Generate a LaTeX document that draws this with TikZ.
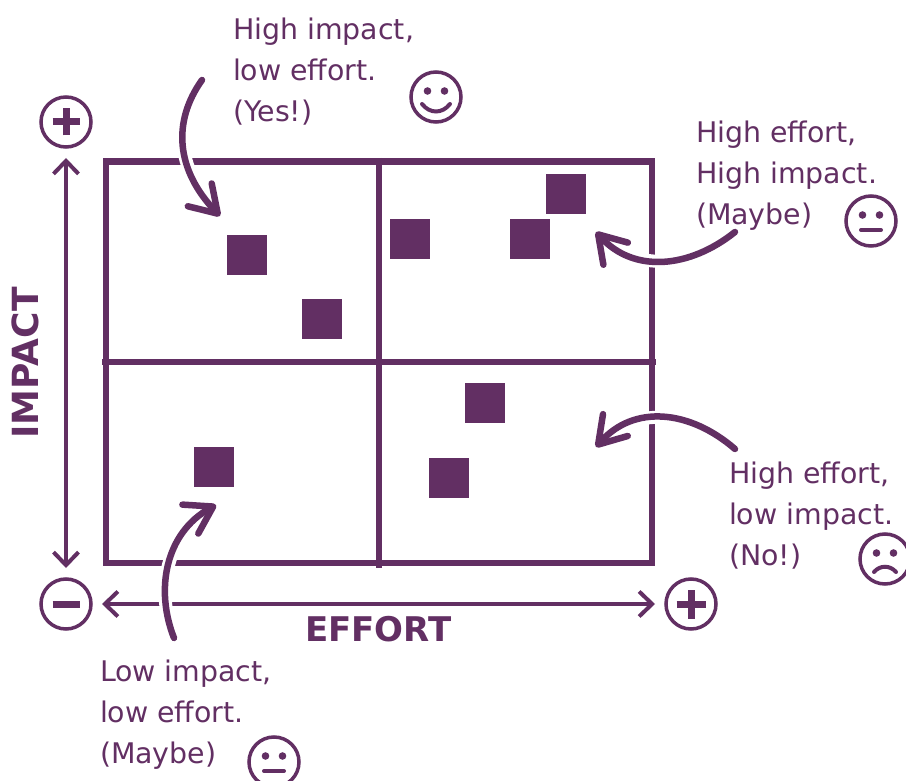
\documentclass[tikz,border=0pt]{standalone}
\usepackage{fontspec}
\setmainfont{DejaVu Sans}
\usetikzlibrary{arrows.meta}
\definecolor{plum}{HTML}{622F63}
\tikzset{
  x=1pt,y=-1pt,
  frame/.style={draw=plum,line width=6.5pt,line cap=rect},
  divider/.style={draw=plum,line width=6pt},
  item/.style={fill=plum,draw=none,minimum size=40pt,inner sep=0pt,outer sep=0pt,rectangle},
  ring/.style={circle,draw=plum,line width=3.5pt,minimum size=50pt,inner sep=0pt,outer sep=0pt},
  axisline/.style={draw=plum,line width=4pt,shorten <=11pt,shorten >=11pt,
    {Straight Barb[length=13pt,width=25pt]}-{Straight Barb[length=13pt,width=25pt]}},
  note/.style={text=plum,anchor=north west,align=left,inner sep=0pt,outer sep=0pt,
    font=\fontsize{28.4}{41.2}\selectfont},
  axislabel/.style={text=plum,inner sep=0pt,font=\fontsize{34}{40}\selectfont\bfseries},
  halo/.style={draw=white,line width=13pt},
  curvy/.style={draw=plum,line width=6.5pt,line cap=round,
    -{Straight Barb[length=26pt,width=33pt,round,line width=6.5pt]}},
  glyph/.style={draw=plum,line width=7pt},
  eye/.style={fill=plum,draw=none},
  mouth/.style={draw=plum,line width=4pt,line cap=round},
}
\newcommand{\eyes}[1]{%
  \fill[eye] ([shift={(-8.5,-6)}]#1.center) circle (3.8pt);
  \fill[eye] ([shift={(8.5,-6)}]#1.center) circle (3.8pt);}
\begin{document}
\begin{tikzpicture}
\useasboundingbox (0,0) rectangle (906,781);
\clip (0,0) rectangle (906,781);
% squares
\node[item] (s1) at (247,255) {};
\node[item] (s2) at (322,319) {};
\node[item] (s3) at (410,239) {};
\node[item] (s4) at (530,239) {};
\node[item] (s5) at (566,194) {};
\node[item] (s6) at (485,403) {};
\node[item] (s7) at (449,478) {};
\node[item] (s8) at (214,467) {};
% matrix
\draw[frame] (106,161.5) rectangle (652,563);
\draw[divider] (379,158) -- (379,568);
\draw[divider] (102,361.5) -- (656,361.5);
% axes
\node[ring] (vplus) at (66,122) {};
\node[ring] (origin) at (66,604) {};
\node[ring] (hplus) at (691,604) {};
\draw[glyph] ([xshift=-13.5pt]vplus.center) -- ([xshift=13.5pt]vplus.center);
\draw[glyph] ([yshift=-13.5pt]vplus.center) -- ([yshift=13.5pt]vplus.center);
\draw[glyph] ([xshift=-13.5pt]origin.center) -- ([xshift=13.5pt]origin.center);
\draw[glyph] ([xshift=-14.5pt]hplus.center) -- ([xshift=14.5pt]hplus.center);
\draw[glyph] ([yshift=-14.5pt]hplus.center) -- ([yshift=14.5pt]hplus.center);
\draw[axisline] (vplus) -- (origin);
\draw[axisline] (origin) -- (hplus);
\node[axislabel,rotate=90,font=\fontsize{36}{40}\selectfont\bfseries] (impact) at (25,363) {IMPACT};
\node[axislabel] (effort) at (378.5,629) {EFFORT};
% notes
\node[note] (n1) at (233,17.5) {High impact,\\low effort.\\(Yes!)};
\node[note] (n2) at (696,120.5) {High effort,\\High impact.\\(Maybe)};
\node[note] (n3) at (729,461.5) {High effort,\\low impact.\\(No!)};
\node[note] (n4) at (100,659.5) {Low impact,\\low effort.\\(Maybe)};
% faces
\node[ring] (f1) at (436,97) {};
\eyes{f1}
\draw[mouth] ([shift={(-14,7)}]f1.center) .. controls ([shift={(-6,17)}]f1.center) and ([shift={(6,17)}]f1.center) .. ([shift={(14,7)}]f1.center);
\node[ring] (f2) at (871,221) {};
\eyes{f2}
\draw[mouth] ([shift={(-10,9)}]f2.center) -- ([shift={(10,9)}]f2.center);
\node[ring] (f3) at (885,559) {};
\eyes{f3}
\draw[mouth] ([shift={(-11,13)}]f3.center) .. controls ([shift={(-5,6)}]f3.center) and ([shift={(5,6)}]f3.center) .. ([shift={(11,13)}]f3.center);
\node[ring] (f4) at (274,762) {};
\eyes{f4}
\draw[mouth] ([shift={(-10,9)}]f4.center) -- ([shift={(10,9)}]f4.center);
% curved pointers
\coordinate (a0) at (202,80); \coordinate (a1) at (220,216);
\coordinate (b0) at (174,638); \coordinate (b1) at (216,505);
\coordinate (c0) at (735,232); \coordinate (c1) at (596,232);
\coordinate (d0) at (735,449); \coordinate (d1) at (596,447);
\path[halo] (a0) .. controls (172,122) and (176,170) .. (a1);
\path[halo] (b0) .. controls (155,590) and (165,533) .. (b1);
\path[halo] (c0) .. controls (690,268) and (634,274) .. (c1);
\path[halo] (d0) .. controls (690,410) and (634,404) .. (d1);
\draw[curvy] (a0) .. controls (172,122) and (176,170) .. (a1);
\draw[curvy] (b0) .. controls (155,590) and (165,533) .. (b1);
\draw[curvy] (c0) .. controls (690,268) and (634,274) .. (c1);
\draw[curvy] (d0) .. controls (690,410) and (634,404) .. (d1);
\end{tikzpicture}
\end{document}
